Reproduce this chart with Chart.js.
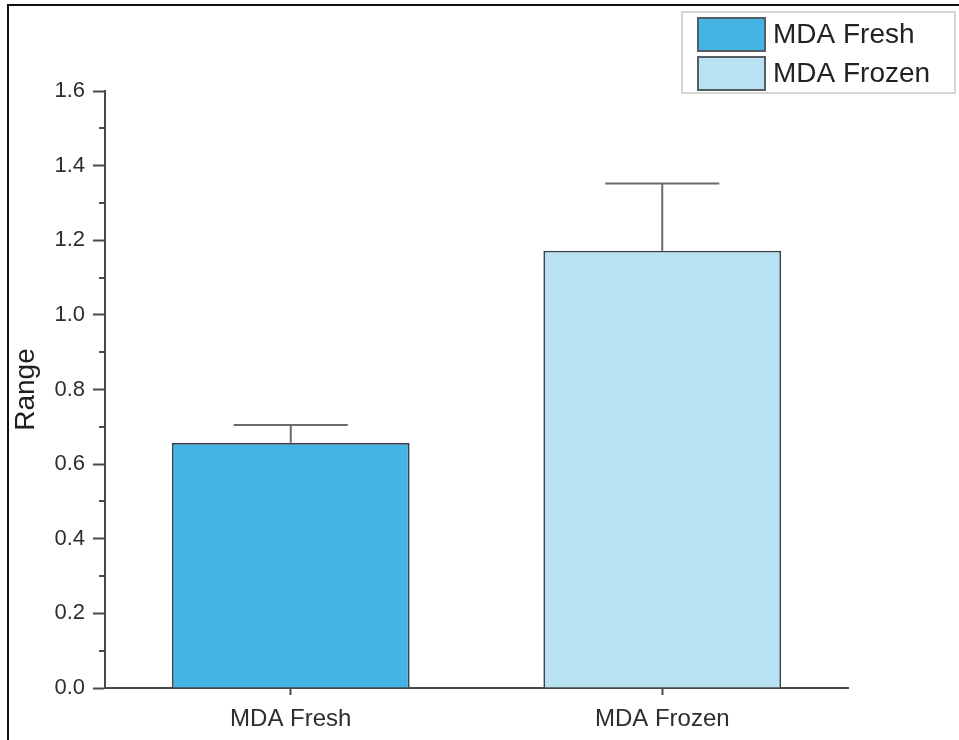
<!DOCTYPE html>
<html>
<head>
<meta charset="utf-8">
<script src="https://cdn.jsdelivr.net/npm/chart.js@4.4.1/dist/chart.umd.min.js"></script>
<style>
  html, body { margin: 0; padding: 0; background: #ffffff; }
  #wrap { position: relative; width: 959px; height: 740px; }
</style>
</head>
<body>
<div id="wrap"><canvas id="c" width="959" height="740"></canvas></div>
<script>
// ---- data ----
const categories = ['MDA Fresh', 'MDA Frozen'];
const seriesLabels = ['MDA Fresh', 'MDA Frozen'];
const meanValues = [0.657, 1.172];
const errorValues = [0.048, 0.180];
const yTickValues = [0.0, 0.2, 0.4, 0.6, 0.8, 1.0, 1.2, 1.4, 1.6];
const yAxisTitle = 'Range';

// ---- styles ----
const fillColors = ['#43b4e3', '#b8e2f1'];
const barEdge = '#37444e';
const axisColor = '#4a4a4a';
const fontFamily = '"Liberation Sans", Arial, sans-serif';

const datasets = seriesLabels.map((lab, i) => ({
  label: lab,
  data: categories.map((c, j) => (j === i ? meanValues[j] : null)),
  errors: categories.map((c, j) => (j === i ? errorValues[j] : null)),
  backgroundColor: fillColors[i],
  borderColor: barEdge,
  borderWidth: 1.8,
  borderSkipped: 'start',
  grouped: false,
  barPercentage: 0.64,
  categoryPercentage: 1.0
}));

const errorBarPlugin = {
  id: 'errorBars',
  afterDatasetsDraw(chart) {
    const ctx = chart.ctx;
    const y = chart.scales.y;
    ctx.save();
    ctx.strokeStyle = '#6a6a6a';
    ctx.lineWidth = 2;
    chart.data.datasets.forEach((ds, i) => {
      const meta = chart.getDatasetMeta(i);
      meta.data.forEach((el, j) => {
        const v = ds.data[j];
        const e = ds.errors[j];
        if (v == null || e == null) return;
        const yb = y.getPixelForValue(v);
        const yt = y.getPixelForValue(v + e);
        const half = el.width * 0.24;
        ctx.beginPath();
        ctx.moveTo(el.x, yb);
        ctx.lineTo(el.x, yt);
        ctx.moveTo(el.x - half, yt);
        ctx.lineTo(el.x + half, yt);
        ctx.stroke();
      });
    });
    ctx.restore();
  }
};

const decorPlugin = {
  id: 'decor',
  afterDraw(chart) {
    const ctx = chart.ctx;
    const y = chart.scales.y;
    const area = chart.chartArea;
    ctx.save();
    // minor ticks on y axis
    ctx.strokeStyle = axisColor;
    ctx.lineWidth = 2;
    for (let k = 0; k < yTickValues.length - 1; k++) {
      const mv = (yTickValues[k] + yTickValues[k + 1]) / 2;
      const py = Math.round(y.getPixelForValue(mv));
      ctx.beginPath();
      ctx.moveTo(area.left - 6, py);
      ctx.lineTo(area.left, py);
      ctx.stroke();
    }
    // image frame
    ctx.strokeStyle = '#111111';
    ctx.lineWidth = 2;
    ctx.beginPath();
    ctx.moveTo(8, 740);
    ctx.lineTo(8, 5);
    ctx.lineTo(959, 5);
    ctx.stroke();
    // legend
    const lx = 682, ly = 12, lw = 273, lh = 81;
    ctx.strokeStyle = '#c8c8c8';
    ctx.lineWidth = 1.5;
    ctx.fillStyle = '#ffffff';
    ctx.fillRect(lx, ly, lw, lh);
    ctx.strokeRect(lx, ly, lw, lh);
    ctx.font = '28px ' + fontFamily;
    ctx.textBaseline = 'middle';
    ctx.textAlign = 'left';
    chart.data.datasets.forEach((ds, i) => {
      const sy = 18 + i * 39;
      ctx.fillStyle = ds.backgroundColor;
      ctx.fillRect(698, sy, 67, 33);
      ctx.strokeStyle = '#555c62';
      ctx.lineWidth = 2;
      ctx.strokeRect(698, sy, 67, 33);
      ctx.fillStyle = '#222222';
      ctx.fillText(ds.label, 773, sy + 17);
    });
    ctx.restore();
  }
};

new Chart(document.getElementById('c'), {
  type: 'bar',
  data: { labels: categories, datasets: datasets },
  options: {
    responsive: false,
    animation: false,
    devicePixelRatio: 1,
    layout: { padding: { left: 8, right: 111, top: 91, bottom: 0 } },
    plugins: {
      legend: { display: false },
      tooltip: { enabled: false }
    },
    scales: {
      x: {
        type: 'category',
        afterFit(s) { s.height = 52; },
        grid: { drawOnChartArea: false, offset: false, tickLength: 7, tickColor: axisColor, tickWidth: 2 },
        border: { color: axisColor, width: 2 },
        ticks: { color: '#2e2e2e', padding: 10, font: { family: fontFamily, size: 24 } }
      },
      y: {
        min: 0,
        max: 1.6,
        afterFit(s) { s.width = 97; },
        afterBuildTicks(s) { s.ticks = yTickValues.map(v => ({ value: v })); },
        grid: { drawOnChartArea: false, tickLength: 12, tickColor: axisColor, tickWidth: 2 },
        border: { color: axisColor, width: 2 },
        ticks: {
          color: '#2e2e2e',
          padding: 8,
          font: { family: fontFamily, size: 22 },
          callback: v => Number(v).toFixed(1)
        },
        title: {
          display: true,
          text: yAxisTitle,
          color: '#1e1e1e',
          padding: { top: 1, bottom: 2 },
          font: { family: fontFamily, size: 28 }
        }
      }
    }
  },
  plugins: [errorBarPlugin, decorPlugin]
});
</script>
</body>
</html>
